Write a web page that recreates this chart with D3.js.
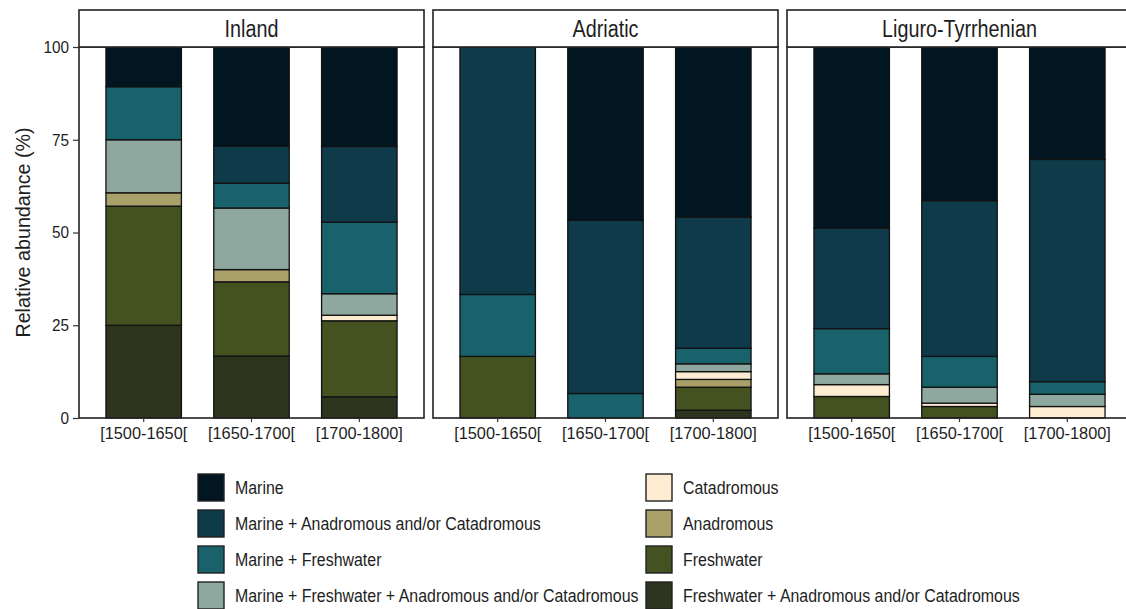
<!DOCTYPE html>
<html><head><meta charset="utf-8">
<script src="https://cdn.jsdelivr.net/npm/d3@7"></script>
<style>
html,body{margin:0;padding:0;background:#fff;overflow:hidden;}
text{font-family:"Liberation Sans",Arial,sans-serif;}
</style></head>
<body>
<svg id="chart" width="1126" height="609"></svg>
<script>
// ---- data ----
const regions = ["Inland", "Adriatic", "Liguro-Tyrrhenian"];
const periods = ["[1500-1650[", "[1650-1700[", "[1700-1800]"];
// stacking order bottom -> top
const categories = [
  "Freshwater + Anadromous and/or Catadromous",
  "Freshwater",
  "Anadromous",
  "Catadromous",
  "Marine + Freshwater + Anadromous and/or Catadromous",
  "Marine + Freshwater",
  "Marine + Anadromous and/or Catadromous",
  "Marine"
];
const colors = ["#2d351e", "#445222", "#a9a06a", "#feecd2", "#8ea89f", "#19616b", "#0e3a4a", "#021622"];
// values per bar: Inland p1..p3, Adriatic p1..p3, Liguro-Tyrrhenian p1..p3
const vFreshAnaCata = [25.0, 16.7, 5.7, 0, 0, 2.1, 0, 0, 0];
const vFreshwater   = [32.1, 20.0, 20.5, 16.6, 0, 6.2, 5.8, 3.1, 0];
const vAnadromous   = [3.6, 3.3, 0, 0, 0, 2.1, 0, 0, 0];
const vCatadromous  = [0, 0, 1.5, 0, 0, 2.1, 3.2, 0.9, 3.1];
const vMarFreshAC   = [14.3, 16.6, 5.8, 0, 0, 2.1, 2.9, 4.3, 3.3];
const vMarFresh     = [14.3, 6.7, 19.3, 16.7, 6.6, 4.2, 12.2, 8.3, 3.4];
const vMarAnaCata   = [0, 10.0, 20.4, 66.7, 46.7, 35.4, 27.1, 42.0, 59.9];
const vMarine       = [10.7, 26.7, 26.8, 0, 46.7, 45.8, 48.8, 41.4, 30.3];
const yTicks = [0, 25, 50, 75, 100];
const legendCol1 = [7, 6, 5, 4];
const legendCol2 = [3, 2, 1, 0];

// ---- build table ----
const series = [vFreshAnaCata, vFreshwater, vAnadromous, vCatadromous, vMarFreshAC, vMarFresh, vMarAnaCata, vMarine];
const rows = [];
regions.forEach((r, ri) => periods.forEach((p, pi) => {
  const row = {region: r, period: p};
  categories.forEach((c, ci) => row[c] = series[ci][ri * 3 + pi]);
  rows.push(row);
}));
const stacked = d3.stack().keys(categories)(rows);
const color = d3.scaleOrdinal().domain(categories).range(colors);

// ---- layout ----
const svg = d3.select("#chart");
const panelW = 345, panelGap = 9, left0 = 79;
const top0 = 47, bottom0 = 418, stripTop = 10;
const y = d3.scaleLinear().domain([0, 100]).range([bottom0, top0]);
const x = d3.scaleBand().domain(periods).range([0, panelW]).paddingInner(0.3).paddingOuter(0.25);
const txt = "#1e1e1e";

regions.forEach((r, ri) => {
  const px = left0 + ri * (panelW + panelGap);
  const g = svg.append("g").attr("transform", `translate(${px},0)`);
  // bars
  stacked.forEach(layer => {
    layer.forEach((d, i) => {
      if (Math.floor(i / 3) !== ri) return;
      if (d[1] - d[0] <= 0) return;
      g.append("rect")
        .attr("x", x(d.data.period))
        .attr("width", x.bandwidth())
        .attr("y", y(d[1]))
        .attr("height", y(d[0]) - y(d[1]))
        .attr("fill", color(layer.key))
        .attr("stroke", "#111")
        .attr("stroke-width", 1.3);
    });
  });
  // panel border
  g.append("rect").attr("x", 0).attr("y", top0).attr("width", panelW).attr("height", bottom0 - top0)
    .attr("fill", "none").attr("stroke", "#222").attr("stroke-width", 1.6);
  // strip
  g.append("rect").attr("x", 0).attr("y", stripTop).attr("width", panelW).attr("height", top0 - stripTop)
    .attr("fill", "#fff").attr("stroke", "#222").attr("stroke-width", 1.6);
  g.append("text")
    .attr("transform", `translate(${panelW / 2},${(stripTop + top0) / 2 + 8}) scale(0.86,1)`)
    .attr("text-anchor", "middle")
    .attr("font-size", 23).attr("fill", txt).text(r);
  // x axis
  const xa = g.append("g").attr("transform", `translate(0,${bottom0})`)
    .call(d3.axisBottom(x).tickSize(4).tickPadding(5));
  xa.select(".domain").remove();
  xa.selectAll(".tick line").attr("stroke", "#333").attr("stroke-width", 1.2);
  xa.selectAll(".tick text").attr("font-size", 16.5).attr("fill", txt)
    .attr("font-family", null).attr("transform", "scale(0.99,1)");
  if (ri === 0) {
    const ya = g.append("g").call(d3.axisLeft(y).tickValues(yTicks).tickSize(6).tickPadding(4));
    ya.select(".domain").remove();
    ya.selectAll(".tick line").attr("stroke", "#333").attr("stroke-width", 1.2);
    ya.selectAll(".tick text").attr("font-size", 16.5).attr("fill", txt).attr("font-family", null)
      .attr("x", -10.7).attr("transform", "scale(0.93,1)");
  }
});

// y title
svg.append("text").attr("transform", `translate(30,${(top0 + bottom0) / 2}) rotate(-90) scale(0.985,1)`)
  .attr("text-anchor", "middle").attr("font-size", 20).attr("fill", txt)
  .text("Relative abundance (%)");

// legend
const legRowY = [474, 510, 546, 582];
const legKeyW = 26, legKeyH = 27;
[[legendCol1, 198], [legendCol2, 646]].forEach(([idxs, lx]) => {
  idxs.forEach((ci, k) => {
    const gy = legRowY[k];
    svg.append("rect").attr("x", lx).attr("y", gy).attr("width", legKeyW).attr("height", legKeyH)
      .attr("fill", color(categories[ci])).attr("stroke", "#222").attr("stroke-width", 1.4);
    svg.append("text")
      .attr("transform", `translate(${lx + 37},${gy + legKeyH / 2 + 6.5}) scale(0.9,1)`)
      .attr("font-size", 17.7).attr("fill", txt)
      .text(categories[ci]);
  });
});
</script>
</body></html>
